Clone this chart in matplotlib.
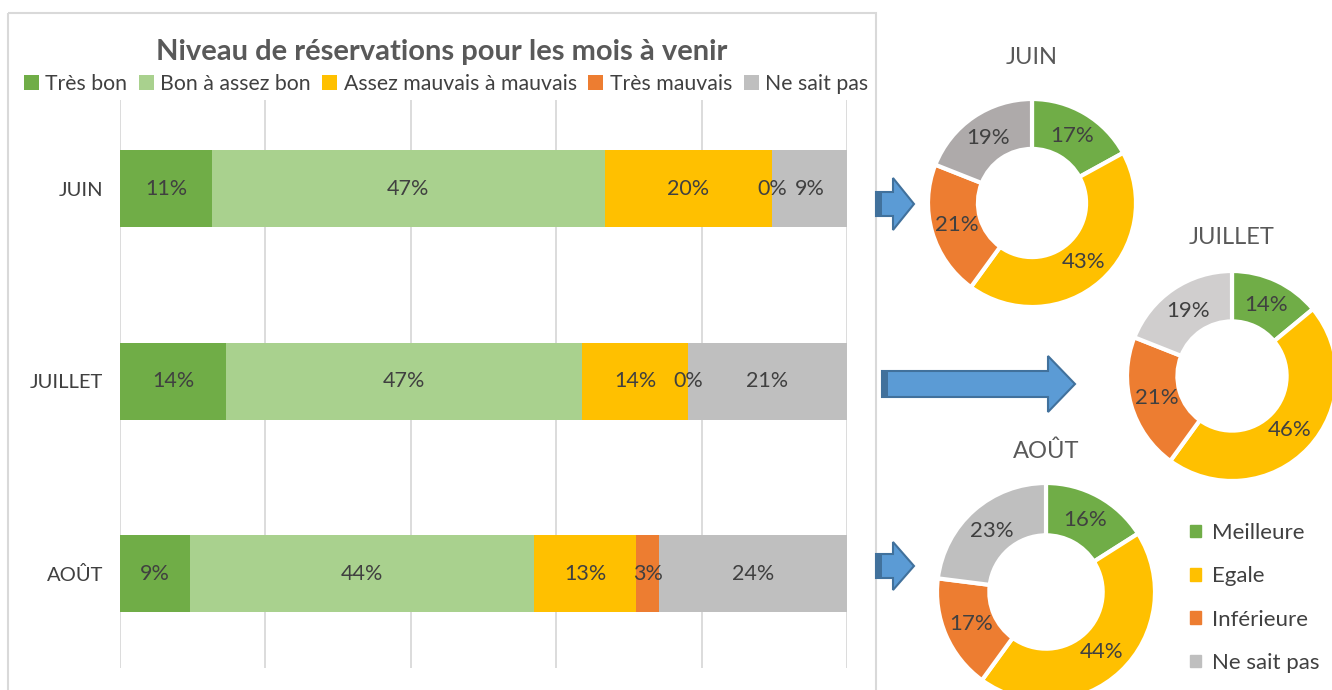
import math
import matplotlib.pyplot as plt
from matplotlib.patches import Patch, Rectangle, Polygon

plt.rcParams['font.family'] = ['Lato', 'DejaVu Sans']

# stacked bars (labels as shown, bars normalised to 100%)
months = ["JUIN", "JUILLET", "AOÛT"]
series = ["Très bon", "Bon à assez bon", "Assez mauvais à mauvais", "Très mauvais", "Ne sait pas"]
tres_bon = [11, 14, 9]
bon = [47, 47, 44]
assez_mauvais = [20, 14, 13]
tres_mauvais = [0, 0, 3]
ne_sait_pas = [9, 21, 24]
bar_colors = ["#70AD47", "#A9D18E", "#FFC000", "#ED7D31", "#BFBFBF"]

# donuts
donut_labels = ["Meilleure", "Egale", "Inférieure", "Ne sait pas"]
juin = [17, 43, 21, 19]
juillet = [14, 46, 21, 19]
aout = [16, 44, 17, 23]
donut_colors = ["#70AD47", "#FFC000", "#ED7D31"]
grey_juin, grey_juillet, grey_aout = "#AEAAAA", "#D0CECE", "#BFBFBF"

W, H = 1332, 690
fig = plt.figure(figsize=(W / 100, H / 100), dpi=100)
txt = "#404040"


def px_axes(x0, y0, x1, y1, **kw):
    return fig.add_axes([x0 / W, 1 - y1 / H, (x1 - x0) / W, (y1 - y0) / H], **kw)


# background layer (panel border, arrows)
bg = fig.add_axes([0, 0, 1, 1], zorder=0)
bg.set_xlim(0, W)
bg.set_ylim(H, 0)
bg.axis('off')
bg.add_patch(Rectangle((8, 13), 868, 700, fill=False, ec="#D9D9D9", lw=1.5))


def arrow(x0, x1, tip, yc, sh, hh):
    pts = [(x0, yc - sh), (x1, yc - sh), (x1, yc - hh), (tip, yc),
           (x1, yc + hh), (x1, yc + sh), (x0, yc + sh)]
    bg.add_patch(Polygon(pts, closed=True, fc="#5B9BD5", ec="#41719C", lw=1.5, zorder=3))
    bg.add_patch(Rectangle((x0, yc - sh), 6, 2 * sh, fc="#41719C", ec="none", zorder=4))


arrow(876, 893, 914, 204, 12, 26)
arrow(882, 1048, 1075, 384, 13, 28)
arrow(876, 893, 914, 566, 12, 24)

# bar chart
ax = px_axes(120, 100, 847, 668, zorder=1)
ax.patch.set_visible(False)
data = [tres_bon, bon, assez_mauvais, tres_mauvais, ne_sait_pas]
totals = [sum(v[i] for v in data) for i in range(len(months))]
left = [0.0] * len(months)
for name, vals, col in zip(series, data, bar_colors):
    widths = [v / t * 100 for v, t in zip(vals, totals)]
    ax.barh(range(len(months)), widths, left=left, height=0.4, color=col, label=name, zorder=2)
    for i, (v, w) in enumerate(zip(vals, widths)):
        ax.text(left[i] + w / 2, i, f"{v}%", ha='center', va='center', fontsize=15.5, color=txt, zorder=3)
    left = [l + w for l, w in zip(left, widths)]

ax.set_xlim(0, 100)
ax.set_ylim(2.49, -0.46)
ax.set_xticks(range(0, 101, 20))
ax.set_xticklabels([])
ax.tick_params(axis='x', length=0)
ax.tick_params(axis='y', length=0, labelsize=14.5, labelcolor=txt, pad=12)
ax.set_yticks(range(len(months)))
ax.set_yticklabels(months)
ax.grid(axis='x', color="#D9D9D9", lw=1.3, zorder=0)
for s in ax.spines.values():
    s.set_visible(False)

fig.text(442 / W, 1 - 52 / H, "Niveau de réservations pour les mois à venir",
         ha='center', va='center', fontsize=21, fontweight='bold', color="#595959")
fig.legend(*ax.get_legend_handles_labels(), loc='center', bbox_to_anchor=(446 / W, 1 - 84 / H),
           ncol=5, frameon=False, fontsize=15.3, labelcolor=txt, handlelength=0.7, handleheight=0.7,
           handletextpad=0.3, columnspacing=0.55, borderpad=0.2)


# donuts
def donut(vals, grey, title, cx, cy, r, ty):
    a = px_axes(cx - r, cy - r, cx + r, cy + r, zorder=2)
    cols = donut_colors + [grey]
    a.pie(vals, colors=cols, startangle=90, counterclock=False, radius=1,
          wedgeprops=dict(width=0.48, edgecolor='white', linewidth=3))
    cum = 0
    for v in vals:
        ang = math.radians(90 - (cum + v / 2) / sum(vals) * 360)
        a.text(0.75 * math.cos(ang), 0.75 * math.sin(ang), f"{v}%", ha='center', va='center',
               fontsize=16, color=txt)
        cum += v
    a.set_xlim(-1, 1)
    a.set_ylim(-1, 1)
    a.set_aspect('equal')
    a.axis('off')
    fig.text(cx / W, 1 - ty / H, title, ha='center', va='center', fontsize=17, color="#595959")


donut(juin, grey_juin, "JUIN", 1032, 203, 104, 58)
donut(juillet, grey_juillet, "JUILLET", 1232, 376, 105, 238)
donut(aout, grey_aout, "AOÛT", 1046, 592, 109, 451)

leg_handles = [Patch(color=c) for c in donut_colors + [grey_aout]]
fig.legend(leg_handles, donut_labels, loc='upper left', bbox_to_anchor=(1170 / W, 1 - 503 / H),
           frameon=False, fontsize=16, labelcolor=txt, handlelength=0.5, handleheight=0.5,
           handletextpad=0.5, labelspacing=1.05)

fig.savefig("out.png", dpi=100)
